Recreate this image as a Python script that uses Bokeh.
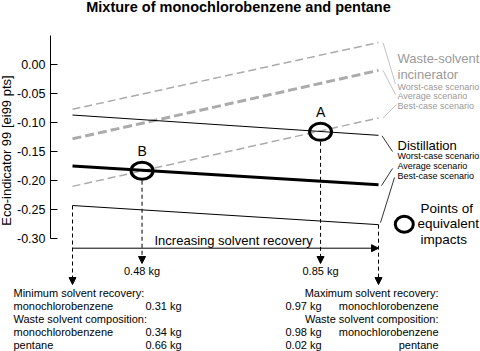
import math
from bokeh.plotting import figure
from bokeh.models import Range1d, FixedTicker, Arrow, NormalHead, ColumnDataSource
from bokeh.embed import file_html
from bokeh.resources import INLINE
from bokeh.core.properties import value

FONT = "Liberation Sans"

# ---------------- data ----------------
recovery_kg = [0.31, 0.97]
incinerator_worst = [-0.078, 0.037]
incinerator_average = [-0.129, -0.011]
incinerator_best = [-0.211, -0.093]
distillation_worst = [-0.088, -0.123]
distillation_average = [-0.176, -0.208]
distillation_best = [-0.244, -0.277]

equiv_names = ["B", "A"]
equiv_kg = [0.46, 0.845]
equiv_impact = [-0.184, -0.117]
equiv_kg_labels = ["0.48 kg", "0.85 kg"]

y_ticks = [0.00, -0.05, -0.10, -0.15, -0.20, -0.25, -0.30]
y_tick_labels = ["0.00", "-0.05", "-0.10", "-0.15", "-0.20", "-0.25", "-0.30"]

scenario_names = ["Worst-case scenario", "Average scenario", "Best-case scenario"]
min_labels = ["Minimum solvent recovery:", "monochlorobenzene", "Waste solvent composition:",
              "monochlorobenzene", "pentane"]
min_values = ["", "0.31 kg", "", "0.34 kg", "0.66 kg"]
max_labels = ["Maximum solvent recovery:", "monochlorobenzene", "Waste solvent composition:",
              "monochlorobenzene", "pentane"]
max_values = ["", "0.97 kg", "", "0.98 kg", "0.02 kg"]

# ---------------- layout helpers (screen px -> data) ----------------
PX_PER_KG = 463.64
PX_PER_UNIT = 580.0


def kx(px):
    return recovery_kg[0] + (px - 72) / PX_PER_KG


def vy(py):
    return (63.5 - py) / PX_PER_UNIT


GRAY = "#ababab"
TGRAY = "#9a9a9a"

p = figure(width=480, height=351, output_backend="svg", toolbar_location=None,
           x_range=Range1d(kx(0), kx(480)), y_range=Range1d(vy(351), vy(0)),
           x_axis_location=None, min_border_left=0, min_border_right=0,
           min_border_top=0, min_border_bottom=0, background_fill_color="white",
           border_fill_color="white")
p.grid.visible = False
p.outline_line_color = None

ax = p.yaxis[0]
ax.fixed_location = kx(50)
ax.ticker = FixedTicker(ticks=y_ticks)
ax.major_label_overrides = {t: l for t, l in zip(y_ticks, y_tick_labels)}
ax.bounds = (y_ticks[-1], 0.049)
ax.major_tick_in = 7
ax.major_tick_out = 0
ax.minor_tick_line_color = None
ax.major_label_standoff = 5
ax.major_label_text_font = FONT
ax.major_label_text_font_size = "12.5px"
ax.major_label_text_color = "black"
ax.axis_line_color = "black"
ax.major_tick_line_color = "black"

# axis title
p.text(x=[kx(6)], y=[vy(150)], text=["Eco-indicator 99 [ei99 pts]"], angle=math.pi / 2,
       text_font=value(FONT), text_font_size=value("13px"), text_align="center",
       text_baseline="middle", text_color="black")

# ---------------- scenario lines ----------------
p.line(recovery_kg, incinerator_worst, line_color=GRAY, line_width=1.5, line_dash="8 4")
p.line(recovery_kg, incinerator_average, line_color=GRAY, line_width=3, line_dash="9 4")
p.line(recovery_kg, incinerator_best, line_color=GRAY, line_width=1.5, line_dash="8 4")
p.line(recovery_kg, distillation_worst, line_color="black", line_width=1)
p.line(recovery_kg, distillation_average, line_color="black", line_width=3)
p.line(recovery_kg, distillation_best, line_color="black", line_width=1)

# ---------------- dashed arrows ----------------
tip_eq = vy(263)
tip_end = vy(284)
arr_src = ColumnDataSource(dict(
    x0=[equiv_kg[0], equiv_kg[1], recovery_kg[0], recovery_kg[1]],
    y0=[equiv_impact[0] - 10 / PX_PER_UNIT, equiv_impact[1] - 10 / PX_PER_UNIT,
        distillation_best[0], distillation_best[1]],
    x1=[equiv_kg[0], equiv_kg[1], recovery_kg[0], recovery_kg[1]],
    y1=[tip_eq, tip_eq, tip_end, tip_end],
))
p.add_layout(Arrow(end=NormalHead(size=7, fill_color="black", line_color="black", line_width=1),
                   x_start="x0", y_start="y0", x_end="x1", y_end="y1", source=arr_src,
                   line_color="black", line_width=1, line_dash="4 3"))

# horizontal "increasing" arrow
harrow_y = vy(247.7)
p.add_layout(Arrow(end=NormalHead(size=7, fill_color="black", line_color="black", line_width=1),
                   x_start=recovery_kg[0], y_start=harrow_y, x_end=recovery_kg[1], y_end=harrow_y,
                   line_color="black", line_width=1))
p.text(x=[kx(154)], y=[vy(240)], text=["Increasing solvent recovery"], text_font=value(FONT),
       text_font_size=value("13px"), text_align="left", text_baseline="middle", text_color="black")

# ---------------- equivalent-impact circles ----------------
p.ellipse(x=equiv_kg, y=equiv_impact, width=22, height=17, width_units="screen",
          height_units="screen", fill_color=None, line_color="black", line_width=3)
p.text(x=equiv_kg, y=[v + 19.5 / PX_PER_UNIT for v in equiv_impact], text=equiv_names,
       text_font=value(FONT), text_font_size=value("14px"), text_align="center",
       text_baseline="middle", text_color="black")
p.text(x=equiv_kg, y=[vy(270)] * 2, text=equiv_kg_labels, text_font=value(FONT),
       text_font_size=value("11px"), text_align="center", text_baseline="middle",
       text_color="black")

# ---------------- right-hand labels ----------------
p.text(x=[kx(397)] * 2, y=[vy(58), vy(73.5)], text=["Waste-solvent", "incinerator"],
       text_font=value(FONT), text_font_size=value("13px"), text_align="left",
       text_baseline="middle", text_color=TGRAY)
p.text(x=[kx(397)] * 3, y=[vy(86), vy(95.7), vy(105.3)], text=scenario_names,
       text_font=value(FONT), text_font_size=value("9px"), text_align="left",
       text_baseline="middle", text_color=TGRAY)
p.text(x=[kx(397)], y=[vy(145)], text=["Distillation"], text_font=value(FONT),
       text_font_size=value("13px"), text_align="left", text_baseline="middle",
       text_color="black")
p.text(x=[kx(397)] * 3, y=[vy(155.7), vy(165.7), vy(175.3)], text=scenario_names,
       text_font=value(FONT), text_font_size=value("9px"), text_align="left",
       text_baseline="middle", text_color="black")

# leader lines
end_x = kx(382.5)
p.segment(x0=[end_x] * 3,
          y0=[incinerator_worst[1], incinerator_average[1], incinerator_best[1]],
          x1=[kx(395), kx(395), kx(396)], y1=[vy(83.5), vy(94), vy(104)],
          line_color="#b4b4b4", line_width=0.8)
p.segment(x0=[kx(381.5), kx(381), kx(380)],
          y0=[distillation_worst[1] - 0.5 / PX_PER_UNIT, distillation_average[1] - 1 / PX_PER_UNIT,
              distillation_best[1] + 2 / PX_PER_UNIT],
          x1=[kx(392), kx(392), kx(394)], y1=[vy(151), vy(168), vy(177)],
          line_color="black", line_width=0.8)

# legend for circles
p.ellipse(x=[kx(403.8)], y=[vy(223.8)], width=18, height=16, width_units="screen",
          height_units="screen", fill_color=None, line_color="black", line_width=3)
p.text(x=[kx(420), kx(417), kx(420)], y=[vy(207.7), vy(223.3), vy(238.5)],
       text=["Points of", "equivalent", "impacts"], text_font=value(FONT),
       text_font_size=value("13.5px"), text_align="left", text_baseline="middle",
       text_color="black")

# ---------------- bottom text blocks ----------------
rows = [vy(292.3), vy(305.5), vy(318.5), vy(331.7), vy(344.5)]
p.text(x=[kx(13)] * 5, y=rows, text=min_labels, text_font=value(FONT),
       text_font_size=value("11px"), text_align="left", text_baseline="middle",
       text_color="black")
p.text(x=[kx(145)] * 5, y=rows, text=min_values, text_font=value(FONT),
       text_font_size=value("11px"), text_align="left", text_baseline="middle",
       text_color="black")
p.text(x=[kx(438)] * 5, y=rows, text=max_labels, text_font=value(FONT),
       text_font_size=value("11px"), text_align="right", text_baseline="middle",
       text_color="black")
p.text(x=[kx(285)] * 5, y=rows, text=max_values, text_font=value(FONT),
       text_font_size=value("11px"), text_align="left", text_baseline="middle",
       text_color="black")

# ---------------- title ----------------
p.text(x=[kx(238)], y=[vy(6.5)], text=["Mixture of monochlorobenzene and pentane"],
       text_font=value(FONT), text_font_size=value("14.5px"), text_font_style="bold",
       text_align="center", text_baseline="middle", text_color="black")

open("out.html", "w").write(file_html(p, INLINE))
